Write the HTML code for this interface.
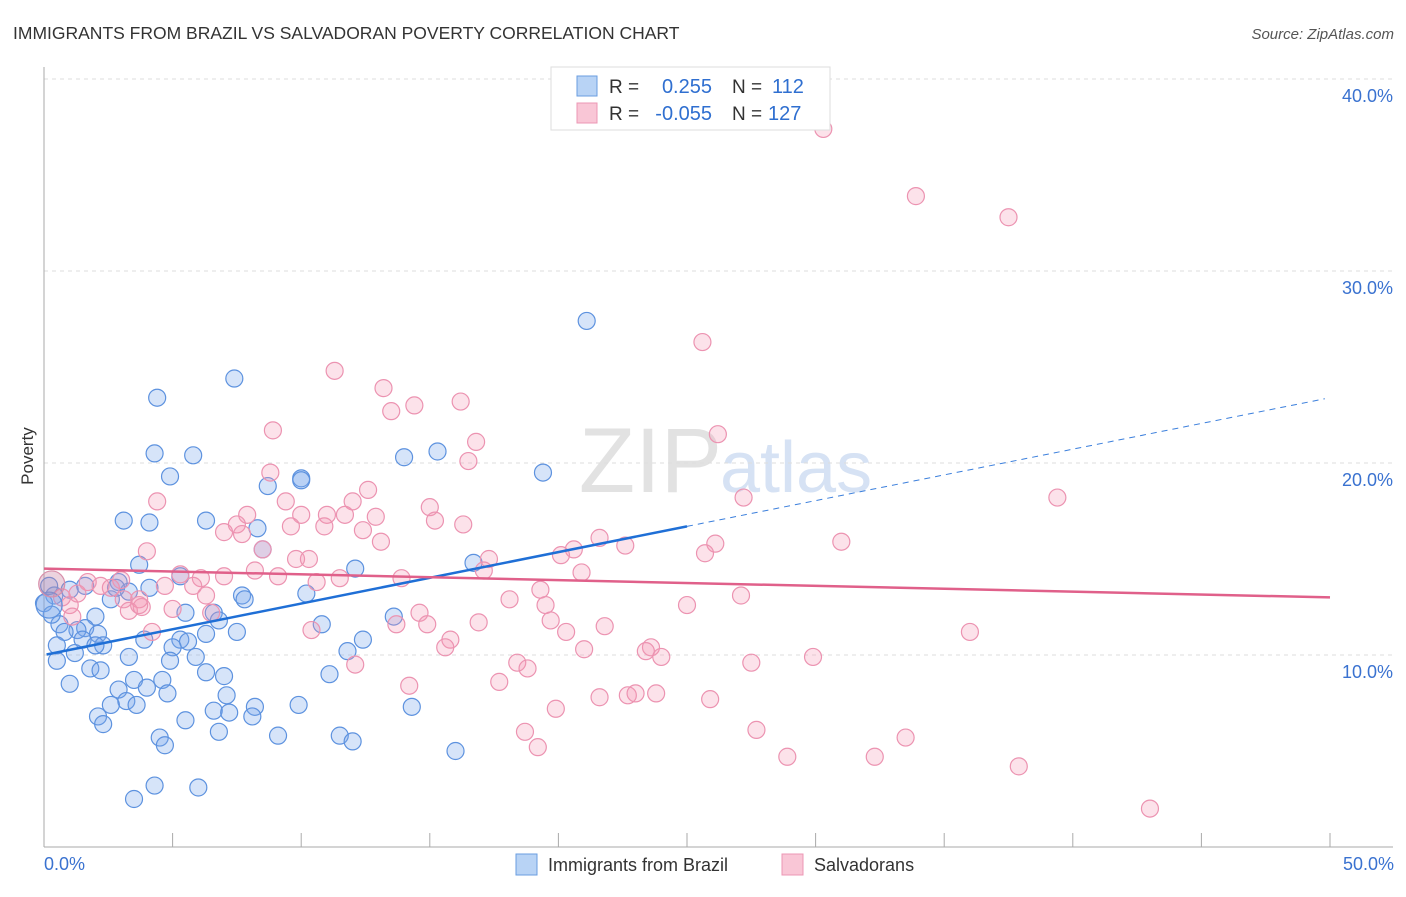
<!DOCTYPE html>
<html><head><meta charset="utf-8"><style>
body{margin:0;background:#fff;font-family:"Liberation Sans",sans-serif}
svg text{font-family:"Liberation Sans",sans-serif}
</style></head><body>
<svg id="c" width="1406" height="892" viewBox="0 0 1406 892" xmlns="http://www.w3.org/2000/svg">
<text x="13" y="39" font-size="17.5" fill="#333">IMMIGRANTS FROM BRAZIL VS SALVADORAN POVERTY CORRELATION CHART</text>
<text x="1394" y="39" font-size="15" fill="#555" font-style="italic" text-anchor="end">Source: ZipAtlas.com</text>
<text x="722" y="492" font-size="92" fill="#e2e2e2" text-anchor="end" font-family="Liberation Serif">ZIP</text>
<text x="720" y="492" font-size="72" fill="#d6e2f4">atlas</text>
<g id="grid"></g>
<g id="axes"></g>
<g id="pts"></g>
<g id="lines"></g>
<text x="33" y="456" font-size="17" fill="#333" text-anchor="middle" transform="rotate(-90 33 456)">Poverty</text>
<g>
<rect x="551" y="67" width="279" height="63" fill="#fff" stroke="#ddd"/>
<rect x="577" y="76" width="20" height="20" fill="#b8d3f5" stroke="#6a9ee0"/>
<rect x="577" y="103" width="20" height="20" fill="#f9c6d6" stroke="#ec97b4"/>
<text x="609" y="93" font-size="19" fill="#333">R =</text>
<text x="712" y="93" font-size="20" fill="#2f6fd0" text-anchor="end">0.255</text>
<text x="732" y="93" font-size="19" fill="#333">N =</text>
<text x="772" y="93" font-size="20" fill="#2f6fd0">112</text>
<text x="609" y="120" font-size="19" fill="#333">R =</text>
<text x="712" y="120" font-size="20" fill="#2f6fd0" text-anchor="end">-0.055</text>
<text x="732" y="120" font-size="19" fill="#333">N =</text>
<text x="768" y="120" font-size="20" fill="#2f6fd0">127</text>
</g>
<g>
<rect x="516" y="854" width="21" height="21" fill="#b8d3f5" stroke="#6a9ee0"/>
<text x="548" y="871" font-size="18" fill="#333">Immigrants from Brazil</text>
<rect x="782" y="854" width="21" height="21" fill="#f9c6d6" stroke="#ec97b4"/>
<text x="814" y="871" font-size="18" fill="#333">Salvadorans</text>
</g>
</svg>
<script>
const yTicks=[10,20,30,40];
const yTickLabels=["10.0%","20.0%","30.0%","40.0%"];
const xTicks=[0,5,10,15,20,25,30,35,40,45,50];
const xEndLabels=["0.0%","50.0%"];
const blueX=[21.1,7.4,4.4,4.3,5.8,15.3,14.0,19.4,4.9,10.0,8.7,3.1,6.3,4.1,8.3,8.5,3.7,16.7,12.1,5.3,2.9,4.1,3.3,10.2,7.7,7.8,0.4,1.0,2.6,5.5,6.6,6.8,13.6,2.0,0.6,1.6,1.3,0.8,10.8,2.1,7.5,6.3,5.3,3.9,5.6,12.4,1.5,0.5,2.3,5.0,11.8,1.2,3.3,5.9,4.9,0.5,1.8,2.2,11.1,7.0,6.3,1.0,4.6,3.5,2.9,4.0,4.8,7.1,3.2,2.6,3.6,9.9,8.2,14.3,6.6,7.2,8.1,2.1,2.3,5.5,6.8,9.1,11.5,4.5,4.7,12.0,16.0,4.3,6.0,3.5,0.0,0.2,0.3,2.0,1.6,2.8,10.0];
const blueY=[27.4,24.4,23.4,20.5,20.4,20.6,20.3,19.5,19.3,19.2,18.8,17.0,17.0,16.9,16.6,15.5,14.7,14.8,14.5,14.1,13.8,13.5,13.3,13.2,13.1,12.9,13.1,13.4,12.9,12.2,12.2,11.8,12.0,12.0,11.6,11.4,11.3,11.2,11.6,11.1,11.2,11.1,10.8,10.8,10.7,10.8,10.8,10.5,10.5,10.4,10.2,10.1,9.9,9.9,9.7,9.7,9.3,9.2,9.0,8.9,9.1,8.5,8.7,8.7,8.2,8.3,8.0,7.9,7.6,7.4,7.4,7.4,7.3,7.3,7.1,7.0,6.8,6.8,6.4,6.6,6.0,5.8,5.8,5.7,5.3,5.5,5.0,3.2,3.1,2.5,12.7,13.6,12.1,10.5,13.6,13.5,19.1];
const pinkX=[30.3,33.9,37.5,25.6,11.3,13.2,16.2,14.4,13.5,8.9,26.2,16.8,16.5,8.8,12.6,4.4,12.0,9.4,39.4,27.2,15.0,11.0,10.0,11.7,12.9,7.9,15.2,7.5,9.6,10.9,16.3,7.0,12.4,7.7,21.6,13.1,26.1,31.0,22.6,8.5,4.0,20.6,20.1,25.7,9.8,10.3,17.3,8.2,17.1,20.9,9.1,11.5,13.9,5.3,6.1,4.7,5.8,10.6,3.0,1.7,2.2,2.6,19.3,6.3,18.1,27.1,3.7,3.1,19.5,25.0,5.0,3.3,3.8,1.0,6.5,14.6,1.1,3.7,19.7,16.9,13.7,14.9,21.8,20.3,4.2,36.0,10.4,15.8,15.6,21.0,23.6,23.4,24.0,29.9,18.4,18.8,12.1,27.5,17.7,14.2,21.6,22.7,23.0,23.8,25.9,19.9,27.7,18.7,33.5,19.2,28.9,32.3,37.9,43.0,0.7,1.3,7.0];
const pinkY=[37.4,33.9,32.8,26.3,24.8,23.9,23.2,23.0,22.7,21.7,21.5,21.1,20.1,19.5,18.6,18.0,18.0,18.0,18.2,18.2,17.7,17.3,17.3,17.3,17.2,17.3,17.0,16.8,16.7,16.7,16.8,16.4,16.5,16.3,16.1,15.9,15.8,15.9,15.7,15.5,15.4,15.5,15.2,15.3,15.0,15.0,15.0,14.4,14.4,14.3,14.1,14.0,14.0,14.2,14.0,13.6,13.6,13.8,13.9,13.8,13.6,13.5,13.4,13.1,12.9,13.1,12.9,12.9,12.6,12.6,12.4,12.3,12.5,12.6,12.2,12.2,12.0,12.6,11.8,11.7,11.6,11.6,11.5,11.2,11.2,11.2,11.3,10.8,10.4,10.3,10.4,10.2,9.9,9.9,9.6,9.3,9.5,9.6,8.6,8.4,7.8,7.9,8.0,8.0,7.7,7.2,6.1,6.0,5.7,5.2,4.7,4.7,4.2,2.0,13.0,13.2,14.1];
const bigX=[0.2,0.3];const bigY=[12.6,13.7];
const blueFit=[10.0,0.268];
const pinkFit=[14.5,-0.03];
const blueSolidEnd=25;
const X=v=>44+v*25.72, Y=v=>847-v*19.2;
const NS="http://www.w3.org/2000/svg";
function mk(p,t,a){const e=document.createElementNS(NS,t);for(const k in a)e.setAttribute(k,a[k]);document.getElementById(p).appendChild(e);return e;}
yTicks.forEach((t,i)=>{
const l=mk('grid','line',{x1:44,x2:1393,y1:Y(t),y2:Y(t),stroke:'#ddd','stroke-dasharray':'4,4'});


const tx=mk('grid','text',{x:1393,y:Y(t)+23,'font-size':18,fill:'#3a72d0','text-anchor':'end'});tx.textContent=yTickLabels[i];


});
const ay=mk('axes','line',{x1:44,x2:44,y1:67,y2:847,stroke:'#aaa'});


const ax=mk('axes','line',{x1:44,x2:1393,y1:847,y2:847,stroke:'#aaa'});


xTicks.forEach(t=>{const l=mk('axes','line',{x1:X(t),x2:X(t),y1:833,y2:847,stroke:'#aaa'});

});
[[0,'start',44],[50,'end',1394]].forEach((o,i)=>{const tx=mk('axes','text',{x:o[2],y:870,'font-size':18,fill:'#3a72d0','text-anchor':o[1]});tx.textContent=xEndLabels[i];

});
function dots(xs,ys,fill,stroke,name,r){xs.forEach((x,i)=>{const c=mk('pts','circle',{cx:X(x),cy:Y(ys[i]),r:r,fill:fill,stroke:stroke,'stroke-width':1.2});

});}
dots(blueX,blueY,'rgba(120,165,235,0.3)','#5d92df','brazil-point',8.5);
dots(pinkX,pinkY,'rgba(245,150,180,0.28)','#ec93b1','salvadoran-point',8.5);
dots([bigX[0]],[bigY[0]],'rgba(120,165,235,0.35)','#5d92df','brazil-point-large',13);
dots([bigX[1]],[bigY[1]],'rgba(200,130,160,0.35)','#d890ab','salvadoran-point-large',13);
const b1=mk('lines','line',{x1:X(0.1),y1:Y(blueFit[0]+blueFit[1]*0.1),x2:X(blueSolidEnd),y2:Y(blueFit[0]+blueFit[1]*blueSolidEnd),stroke:'#1f6fd6','stroke-width':2.5});


const b2=mk('lines','line',{x1:X(blueSolidEnd),y1:Y(blueFit[0]+blueFit[1]*blueSolidEnd),x2:X(49.8),y2:Y(blueFit[0]+blueFit[1]*49.8),stroke:'#3b7fdc','stroke-width':1,'stroke-dasharray':'6,5'});


const p1=mk('lines','line',{x1:X(0),y1:Y(pinkFit[0]),x2:X(50),y2:Y(pinkFit[0]+pinkFit[1]*50),stroke:'#e0608a','stroke-width':2.5});


</script>
</body></html>
